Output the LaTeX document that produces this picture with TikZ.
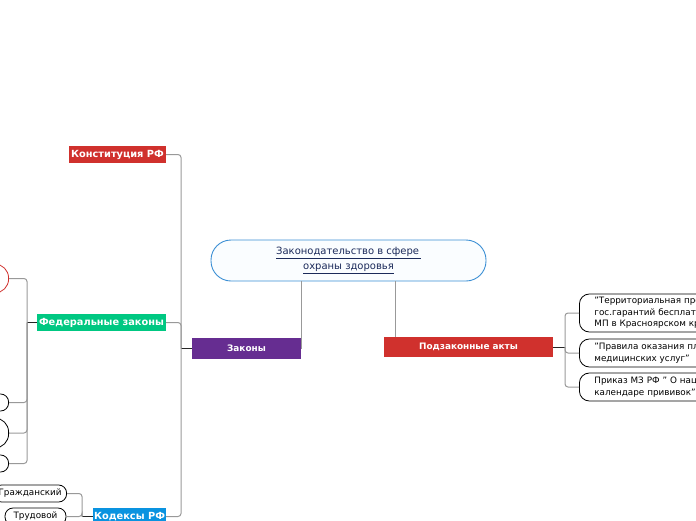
\documentclass[tikz,border=0pt]{standalone}
\usepackage{fontspec}
\setmainfont{DejaVu Sans}
\usetikzlibrary{positioning,calc}
\definecolor{navy}{HTML}{1B2A5A}
\definecolor{rootline}{HTML}{3B8FD4}
\definecolor{purp}{HTML}{662D91}
\definecolor{redt}{HTML}{D0312D}
\definecolor{greent}{HTML}{00C882}
\definecolor{bluet}{HTML}{0A93E0}
\definecolor{linegray}{HTML}{999999}

\begin{document}
\begin{tikzpicture}[x=1pt,y=-1pt]
			\tikzstyle{Root}	= [draw=rootline, line width=0.9pt, fill=cyan!2, rounded corners=20pt, minimum width=275pt, minimum height=41pt, inner sep=0pt, align=center, font=\fontsize{10}{15}\selectfont, text=navy]
			\tikzstyle{Main}	= [text=white, font=\fontsize{8.9}{10}\selectfont\bfseries, inner sep=0pt]
			\tikzstyle{Branch}	= [text=white, font=\fontsize{9.8}{11}\selectfont\bfseries, inner sep=0pt, minimum height=17pt]
			\tikzstyle{Leaf}	= [draw, thick, rounded corners=10pt, inner sep=0pt, font=\fontsize{8.8}{11.5}\selectfont]
			\tikzstyle{NM}		= [linegray, line width=1pt, rounded corners=3pt]
			\tikzstyle{ST}		= [black!85, line width=1pt]

			\useasboundingbox (0,0) rectangle (696,520);
			\clip (0,0) rectangle (696,520);

			% center
			\node (root) at (348.5,260.5) [Root] {\underline{Законодательство в сфере\,}\\\underline{охраны здоровья}};

			% main topics
			\node (zakony) at (246.5,348.5) [Main, fill=purp, minimum width=109pt, minimum height=21pt] {Законы};
			\node (podz) at (468.5,347) [Main, fill=redt, minimum width=169pt, minimum height=20pt] {Подзаконные акты};

			% laws
			\node (konst) at (117.5,154.5) [Branch, fill=redt, minimum width=97pt] {Конституция РФ};
			\node (fed) at (101.5,322.5) [Branch, fill=greent, minimum width=129pt] {Федеральные законы};
			\node (kod) at (129.5,516.5) [Branch, fill=bluet, minimum width=73pt] {Кодексы РФ};

			% federal laws (off the page)
			\node (fed1) [Leaf, draw=redt, anchor=east, minimum width=100pt, minimum height=29pt, rounded corners=14pt] at (9,278.5) {};
			\node (fed2) [Leaf, anchor=east, minimum width=100pt, minimum height=17pt, rounded corners=8pt] at (9,402.5) {};
			\node (fed3) [Leaf, anchor=east, minimum width=100pt, minimum height=30pt, rounded corners=14pt] at (9,433) {};
			\node (fed4) [Leaf, anchor=east, minimum width=100pt, minimum height=17pt, rounded corners=8pt] at (9,463.5) {};

			% codes
			\node (grazhd) [Leaf, anchor=east, minimum width=73pt, minimum height=17pt, rounded corners=8pt] at (67,493.5) {Гражданский};
			\node (trud) [Leaf, minimum width=61pt, minimum height=17pt, rounded corners=8pt] at (35.5,516.5) {Трудовой};

			% by-laws
			\node (terr) [Leaf, anchor=west, minimum width=220pt, minimum height=38pt, align=left, text width=190pt, inner xsep=15pt] at (579,313) {"Территориальная программа\\гос.гарантий бесплатного оказания\\МП в Красноярском крае"};
			\node (platn) [Leaf, anchor=west, minimum width=220pt, minimum height=28pt, align=left, text width=190pt, inner xsep=15pt] at (579,353) {"Правила оказания платных\\медицинских услуг"};
			\node (privik) [Leaf, anchor=west, minimum width=220pt, minimum height=28pt, align=left, text width=190pt, inner xsep=15pt] at (579,387) {Приказ МЗ РФ " О национальном\\календаре прививок"};

			% joints
			\coordinate (tz) at (181,348.5);
			\coordinate (tf) at (27,322.5);
			\coordinate (tk) at (82,516.5);
			\coordinate (tp) at (565,347);

			\draw [NM] (zakony.east |- root.south) to (zakony.east);
			\draw [NM] ([xshift=46.5pt]root.south) to ([xshift=-73.5pt]podz.north);

			\draw [ST] (zakony.west) to (tz);
			\draw [NM] (konst.east) -| (tz);
			\draw [NM] (fed.east) -| (tz);
			\draw [NM] (kod.east) -| (tz);

			\draw [ST] (fed.west) to (tf);
			\draw [NM] (fed1.east) -| (tf);
			\draw [NM] (fed2.east) -| (tf);
			\draw [NM] (fed3.east) -| (tf);
			\draw [NM] (fed4.east) -| (tf);

			\draw [ST] (kod.west) to (tk);
			\draw [NM] (grazhd.east) -| (tk);
			\draw [NM] (trud.east) -| (tk);

			\draw [ST] (podz.east) to (tp);
			\draw [NM] (terr.west) -| (tp);
			\draw [NM] (platn.west) -| (tp);
			\draw [NM] (privik.west) -| (tp);
\end{tikzpicture}
\end{document}
